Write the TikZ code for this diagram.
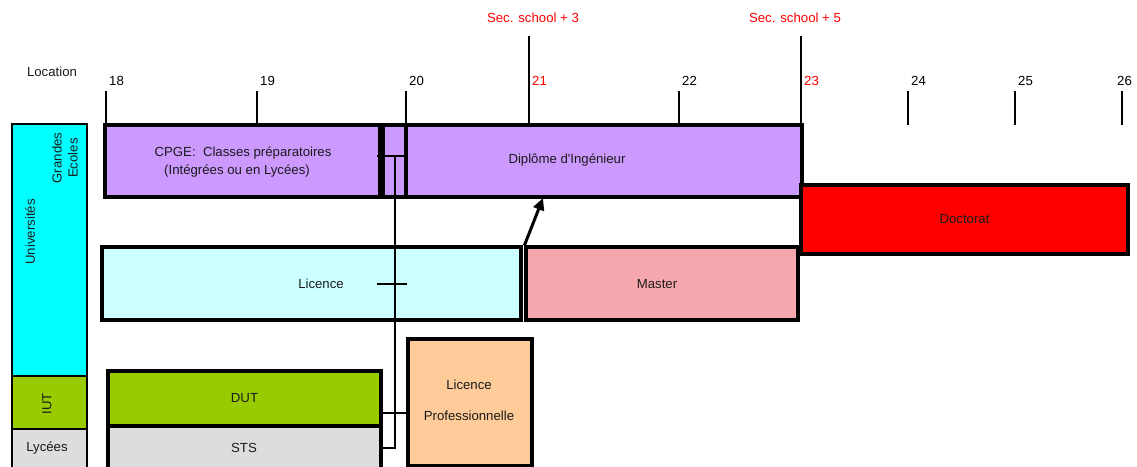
\documentclass[tikz,border=0pt]{standalone}
\usepackage{fontspec}
\setmainfont{Liberation Sans}
\usetikzlibrary{arrows.meta}
\definecolor{lav}{HTML}{CC99FF}
\definecolor{cyanL}{HTML}{00FFFF}
\definecolor{licc}{HTML}{CCFFFF}
\definecolor{mast}{HTML}{F5A7AD}
\definecolor{doct}{HTML}{FF0000}
\definecolor{iutg}{HTML}{99CC00}
\definecolor{lycg}{HTML}{DDDDDD}
\definecolor{lpro}{HTML}{FFCC99}
\definecolor{txt}{HTML}{1A1A1A}
\tikzset{
  boxnode/.style={draw=black, line width=3.2pt, inner sep=0pt, text=txt, align=center},
  sidebox/.style={draw=black, line width=2.4pt, inner sep=0pt, minimum width=75pt, text=txt},
  txtnode/.style={inner sep=0pt, text=txt, align=center},
  ticklbl/.style={inner sep=0pt, anchor=west},
  tickline/.style={line width=2.4pt},
  conn/.style={line width=2.2pt},
  upar/.style={line width=3pt, -{Triangle[length=12pt,width=11pt]}}
}
\begin{document}
\begin{tikzpicture}[x=1pt,y=-1pt,font=\fontsize{13.2}{16}\selectfont]
\useasboundingbox (0,0) rectangle (1137,466);

% top labels
\node[txtnode] (loc) at (52,72) {Location};
\node[txtnode, text=red] (ss3) at (533,18) {Sec. school + 3};
\node[txtnode, text=red] (ss5) at (795,18) {Sec. school + 5};

% ticks
\foreach \x/\n/\t in {106/18/91, 257/19/91, 406/20/91, 529/21/36, 679/22/91, 801/23/36, 908/24/91, 1015/25/91, 1122/26/91}{
  \coordinate (t\n a) at (\x,\t);
  \coordinate (t\n b) at (\x,125);
  \draw[tickline] (t\n a) -- (t\n b);
}
\foreach \x/\n in {109/18, 260/19, 409/20, 682/22, 911/24, 1018/25, 1117/26}{
  \node[ticklbl] (l\n) at (\x,81) {\n};
}
\node[ticklbl, text=red] (l21) at (532,81) {21};
\node[ticklbl, text=red] (l23) at (804,81) {23};

% left column
\node[sidebox, fill=cyanL, minimum height=252pt] (univ) at (49.5,250) {};
\node[sidebox, fill=iutg, minimum height=53pt] (iut) at (49.5,402.5) {};
\node[sidebox, fill=lycg, minimum height=41pt] (lyc) at (49.5,449.5) {};
\node[txtnode, rotate=90] (univt) at (30,232) {Universités};
\node[txtnode, rotate=90] (gecol) at (65,158) {Grandes\\Ecoles};
\node[txtnode, rotate=90] (iutt) at (47,404) {IUT};
\node[txtnode] (lyct) at (47,448) {Lycées};

% main boxes
\node[boxnode, fill=lav, minimum width=275pt, minimum height=72pt] (cpge) at (242.5,161) {};
\node[txtnode] (cpget1) at (243,153) {CPGE:\ \ Classes préparatoires};
\node[txtnode] (cpget2) at (237,171) {(Intégrées ou en Lycées)};
\node[boxnode, fill=lav, minimum width=23pt, minimum height=72pt] (small) at (394.5,161) {};
\node[boxnode, fill=lav, minimum width=396pt, minimum height=72pt] (dipl) at (604,161) {};
\node[txtnode] (diplt) at (567,160) {Diplôme d\textquotesingle Ingénieur};
\node[boxnode, fill=doct, minimum width=327pt, minimum height=69pt] (doc) at (964.5,219.5) {Doctorat};
\node[boxnode, fill=licc, minimum width=419pt, minimum height=73pt] (lic) at (311.5,283.5) {};
\node[txtnode] (lict) at (321,284) {Licence};
\node[boxnode, fill=mast, minimum width=272pt, minimum height=73pt] (mas) at (662,283.5) {};
\node[txtnode] (mast) at (657,284) {Master};
\node[boxnode, fill=iutg, minimum width=273pt, minimum height=55pt] (dut) at (244.5,398.5) {DUT};
\node[boxnode, fill=lycg, minimum width=273pt, minimum height=44pt] (sts) at (244.5,448) {};
\node[txtnode] (stst) at (244,448) {STS};
\node[boxnode, fill=lpro, minimum width=124pt, minimum height=127pt] (lp) at (470,402.5) {};
\node[txtnode] (lpt1) at (469,385) {Licence};
\node[txtnode] (lpt2) at (469,416) {Professionnelle};

% connectors
\coordinate (vtop) at (395,156);
\coordinate (vbot) at (395,448);
\coordinate (htl) at (377,156);
\coordinate (htr) at (406,156);
\coordinate (hll) at (377,284);
\coordinate (hlr) at (407,284);
\coordinate (cdut) at (395,413);
\draw[conn] (sts.east |- vbot) -- (vbot) -- (vtop);
\draw[conn] (htl) -- (htr);
\draw[conn] (hll) -- (hlr);
\draw[conn] (dut.east |- cdut) -- (lp.west |- cdut);

% arrow
\coordinate (atip) at (543,198);
\draw[upar] (mas.north west) -- (atip);
\end{tikzpicture}
\end{document}
